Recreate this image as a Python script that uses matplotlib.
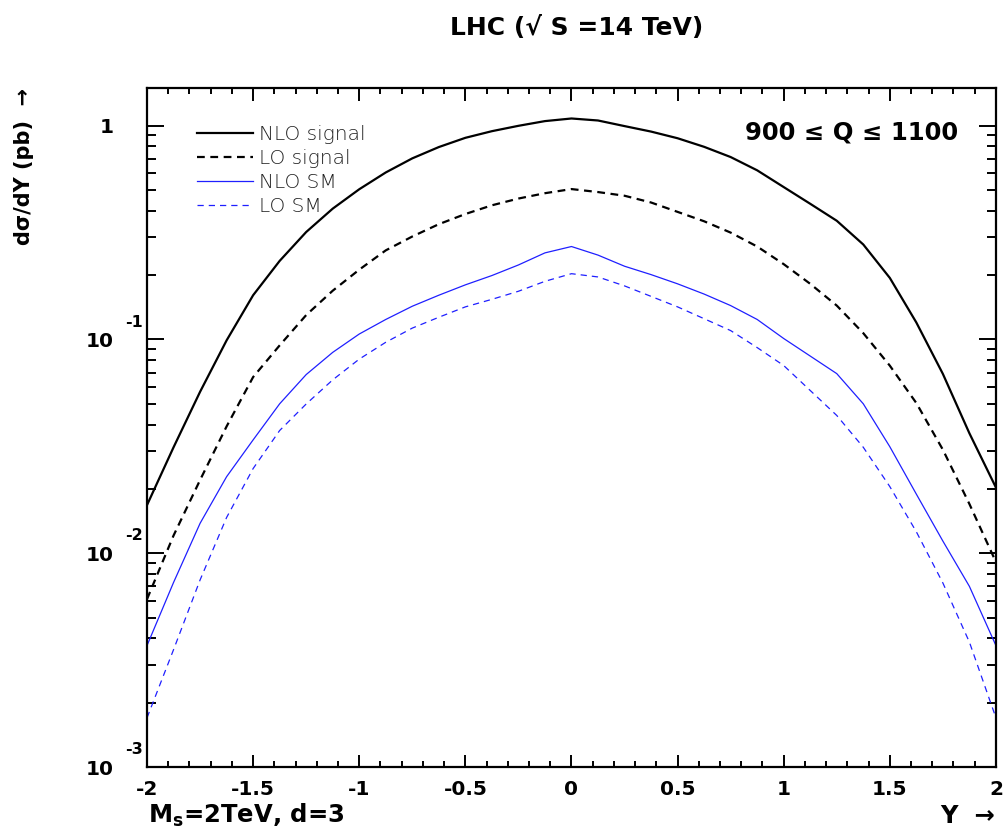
import numpy as np
import matplotlib
matplotlib.use("Agg")
from matplotlib import pyplot as plt
from matplotlib.ticker import LogLocator, NullFormatter, MultipleLocator

# rapidity grid and read-off cross sections (pb)
y_rap = np.arange(-2.0, 2.0001, 0.125)

nlo_signal = [0.0168, 0.0313, 0.0569, 0.099, 0.161, 0.233, 0.318, 0.409, 0.504,
              0.604, 0.703, 0.794, 0.877, 0.942, 0.998, 1.05, 1.08,
              1.057, 0.995, 0.938, 0.873, 0.796, 0.713, 0.618, 0.516,
              0.431, 0.359, 0.278, 0.194, 0.120, 0.069, 0.0364, 0.0203]
lo_signal = [0.0061, 0.0121, 0.0220, 0.0392, 0.0667, 0.0938, 0.130, 0.169, 0.212,
             0.261, 0.303, 0.346, 0.386, 0.424, 0.456, 0.483, 0.505,
             0.489, 0.470, 0.437, 0.395, 0.357, 0.316, 0.272, 0.225,
             0.182, 0.144, 0.107, 0.0754, 0.0504, 0.0305, 0.0170, 0.0091]
nlo_sm = [0.0037, 0.0073, 0.0138, 0.0228, 0.0339, 0.050, 0.0685, 0.0870, 0.106,
          0.124, 0.143, 0.161, 0.180, 0.199, 0.223, 0.254, 0.272,
          0.248, 0.220, 0.201, 0.182, 0.163, 0.144, 0.124, 0.101,
          0.0836, 0.0692, 0.050, 0.0315, 0.0189, 0.0114, 0.0070, 0.0037]
lo_sm = [0.0017, 0.00354, 0.0075, 0.0147, 0.0249, 0.0375, 0.0499, 0.0647, 0.0809,
         0.097, 0.113, 0.127, 0.142, 0.154, 0.168, 0.187, 0.203,
         0.196, 0.178, 0.159, 0.142, 0.125, 0.110, 0.0916, 0.0755,
         0.0577, 0.0441, 0.0313, 0.0205, 0.0126, 0.00726, 0.00384, 0.0017]

x_ticks = [-2, -1.5, -1, -0.5, 0, 0.5, 1, 1.5, 2]
x_tick_labels = ["-2", "-1.5", "-1", "-0.5", "0", "0.5", "1", "1.5", "2"]
y_ticks = [1e-3, 1e-2, 1e-1, 1]
y_tick_labels = ["10", "10", "10", "1"]
y_exponents = {1e-3: "-3", 1e-2: "-2", 1e-1: "-1"}

plt.rcParams["font.family"] = ["DejaVu Sans"]
plt.rcParams["font.weight"] = "bold"
plt.rcParams["axes.unicode_minus"] = False
plt.rcParams["mathtext.fontset"] = "custom"
plt.rcParams["mathtext.rm"] = "DejaVu Sans:bold"
plt.rcParams["mathtext.it"] = "DejaVu Sans:bold"
plt.rcParams["mathtext.bf"] = "DejaVu Sans:bold"

fig = plt.figure(figsize=(10.07, 8.34), dpi=100)
ax = fig.add_axes([0.146, 0.0803, 0.843, 0.8142])

ax.plot(y_rap, nlo_signal, color="black", lw=1.6, label="NLO signal")
ax.plot(y_rap, lo_signal, color="black", lw=1.6, ls=(0, (3.5, 2.5)), label="LO signal")
ax.plot(y_rap, nlo_sm, color="#1f1fff", lw=0.9, label="NLO SM")
ax.plot(y_rap, lo_sm, color="#1f1fff", lw=0.9, ls=(0, (5, 4)), label="LO SM")

ax.set_yscale("log")
ax.set_xlim(-2, 2)
ax.set_ylim(1e-3, 1.5)

ax.set_xticks(x_ticks, labels=x_tick_labels)
ax.xaxis.set_minor_locator(MultipleLocator(0.1))
ax.set_yticks(y_ticks, labels=y_tick_labels)
ax.yaxis.set_minor_locator(LogLocator(base=10, subs=np.arange(2, 10)))
ax.yaxis.set_minor_formatter(NullFormatter())

for s in ax.spines.values():
    s.set_linewidth(1.6)
ax.tick_params(which="both", direction="in", top=True, right=True, width=1.4)
ax.tick_params(which="major", axis="y", length=12, labelsize=14.5, pad=24)
ax.tick_params(which="minor", axis="y", length=6.5)
ax.tick_params(which="major", axis="x", length=9, labelsize=14.5, pad=9)
ax.tick_params(which="minor", axis="x", length=4.5)

for val, exp in y_exponents.items():
    ax.annotate(exp, xy=(0, val), xycoords=("axes fraction", "data"),
                xytext=(-16, 12.5), textcoords="offset points",
                ha="left", va="center", fontsize=11.5, fontweight="bold")

leg = ax.legend(loc="upper left", bbox_to_anchor=(0.059, 0.946), frameon=False,
                fontsize=14.5, handlelength=2.8, handletextpad=0.25, labelspacing=0.25,
                borderaxespad=0, borderpad=0)
for t in leg.get_texts():
    t.set_fontweight("light")
    t.set_color("#222222")

ax.text(0.955, 0.935, "900 \u2264 Q \u2264 1100", transform=ax.transAxes,
        ha="right", va="center", fontsize=17.5, fontweight="bold")

fig.text(0.573, 0.966, "LHC (\u221a S =14 TeV)", ha="center", va="center",
         fontsize=18, fontweight="bold")
fig.text(0.024, 0.80, "d\u03c3/dY (pb)  \u2192", rotation=90, ha="center", va="center",
         fontsize=15, fontweight="bold")
fig.text(0.147, 0.022, r"$\mathrm{M_s}$=2TeV, d=3", ha="left", va="center",
         fontsize=17.5, fontweight="bold")
fig.text(0.988, 0.022, "Y  \u2192", ha="right", va="center",
         fontsize=17.5, fontweight="bold")

fig.savefig("out.png", dpi=100)
